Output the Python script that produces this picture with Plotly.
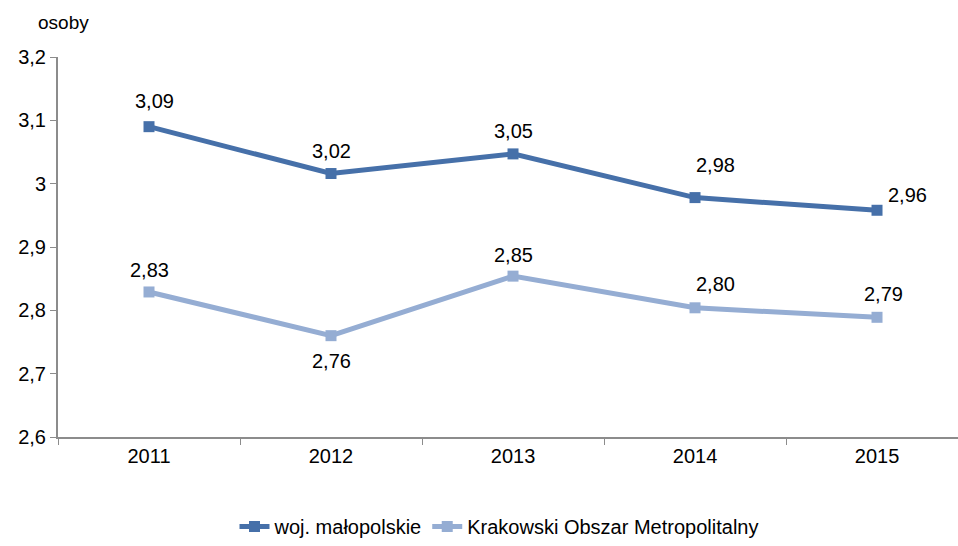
import plotly.graph_objects as go

years = ["2011", "2012", "2013", "2014", "2015"]
woj_malopolskie = [3.09, 3.016, 3.047, 2.978, 2.958]
kom = [2.829, 2.760, 2.854, 2.804, 2.789]
y_ticks = [2.6, 2.7, 2.8, 2.9, 3.0, 3.1, 3.2]
y_tick_labels = ["2,6", "2,7", "2,8", "2,9", "3", "3,1", "3,2"]

# label offsets (pixels) - styling only
woj_off = [(5, 26), (0, 23), (0, 23), (20, 33), (30, 15)]
kom_off = [(0, 22), (0, -25), (0, 21), (20, 24), (6, 23)]

c_dark = "#4670A9"
c_light = "#95ADD3"
font = "Liberation Sans, Arial, sans-serif"
fs = 20

fig = go.Figure()
fig.add_trace(go.Scatter(x=years, y=woj_malopolskie, mode="lines+markers",
                         name="woj. małopolskie",
                         line=dict(color=c_dark, width=5),
                         marker=dict(symbol="square", size=11, color=c_dark)))
fig.add_trace(go.Scatter(x=years, y=kom, mode="lines+markers",
                         name="Krakowski Obszar Metropolitalny",
                         line=dict(color=c_light, width=5),
                         marker=dict(symbol="square", size=11, color=c_light)))

def fmt(v):
    return f"{v:.2f}".replace(".", ",")

for vals, offs in ((woj_malopolskie, woj_off), (kom, kom_off)):
    for i, (v, (dx, dy)) in enumerate(zip(vals, offs)):
        fig.add_annotation(x=i, y=v, xref="x", yref="y", text=fmt(v), showarrow=False,
                           xshift=dx, yshift=dy,
                           font=dict(size=fs, color="#000000", family=font))

fig.add_annotation(xref="paper", yref="paper", x=-0.024, y=1.092,
                   xanchor="left", yanchor="middle", text="osoby", showarrow=False,
                   font=dict(size=fs - 1, color="#000000", family=font))

fig.update_layout(
    width=958, height=546,
    margin=dict(l=58, r=0, t=57, b=109),
    paper_bgcolor="white", plot_bgcolor="white",
    font=dict(family=font, size=fs, color="#000000"),
    showlegend=True,
    legend=dict(orientation="h", x=0.49, xanchor="center", y=-0.287, yanchor="bottom",
                font=dict(size=fs, family=font)),
    xaxis=dict(type="category", range=[-0.5, 4.445], showline=True,
               linecolor="#8c8c8c", linewidth=2, ticks="outside", tickson="boundaries",
               ticklen=6, tickcolor="#8c8c8c", showgrid=False, zeroline=False,
               tickfont=dict(size=fs)),
    yaxis=dict(range=[2.6, 3.2], tickvals=y_ticks, ticktext=y_tick_labels,
               showline=True, linecolor="#8c8c8c", linewidth=2, ticks="outside",
               ticklen=6, tickcolor="#8c8c8c", showgrid=False, zeroline=False,
               tickfont=dict(size=fs)),
)

fig.write_html("out.html", config={"displayModeBar": False},
               post_script="document.body.style.margin='0';")
